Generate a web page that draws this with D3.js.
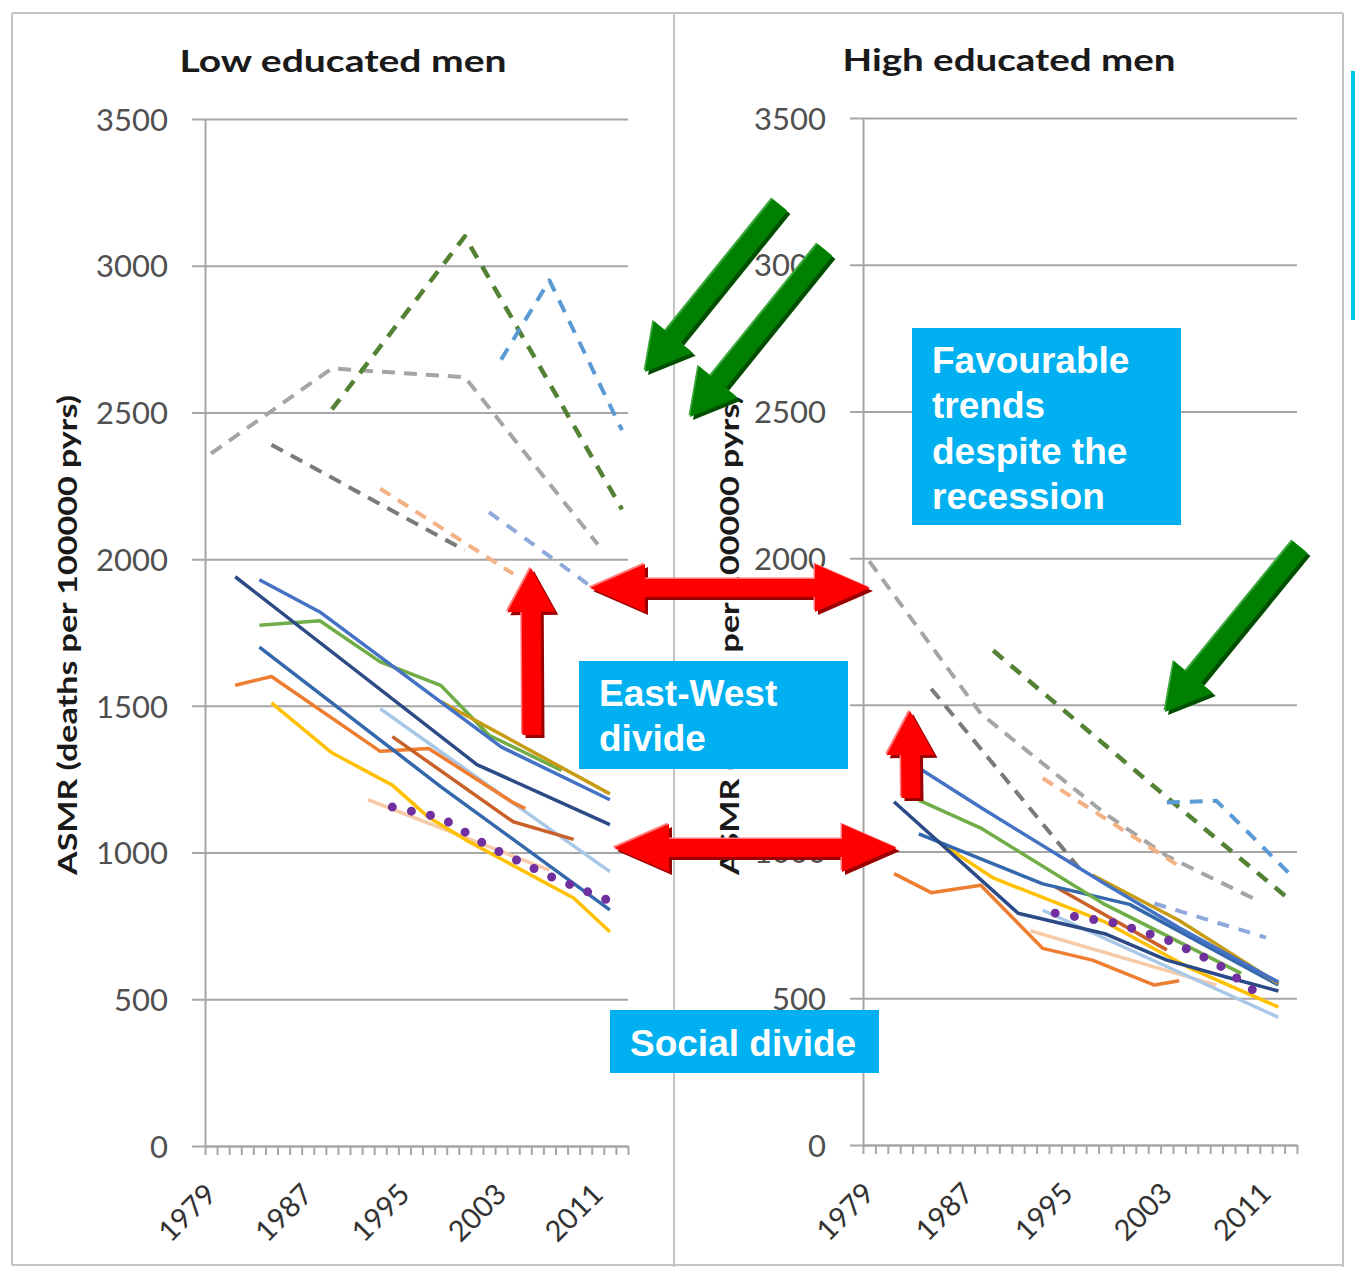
<!DOCTYPE html>
<html>
  <head>
    <meta charset="utf-8">
    <style>
      body { margin: 0; background: #fff; }
      svg { display: block; }
      .axis text { font-family: Lato, "Open Sans", sans-serif; font-size: 31px; fill: #505050; }
      .axis line, .axis path { stroke: #a6a6a6; stroke-width: 2; }
      .year-label { font-family: Lato, "Open Sans", sans-serif; font-size: 29px; fill: #333; }
      .panel-title { font-family: Lato, "Open Sans", sans-serif; font-size: 31px; font-weight: bold; fill: #1a1a1a; }
      .axis-title { font-family: Lato, "Open Sans", sans-serif; font-size: 27px; font-weight: bold; fill: #1a1a1a; }
      .note { font-family: "Liberation Sans", Arial, sans-serif; font-size: 37px; font-weight: bold; fill: #fff; }
    </style>
  </head>
  <body>
    <script src="https://cdnjs.cloudflare.com/ajax/libs/d3/7.8.5/d3.min.js"></script>
    <script>
    // categories + ticks
    var years = d3.range(1979, 2014);
    var yTicks = [0, 500, 1000, 1500, 2000, 2500, 3000, 3500];
    var yearLabels = [1979, 1987, 1995, 2003, 2011];
    var panelTitles = ["Low educated men", "High educated men"];
    var axisTitle = "ASMR (deaths per 100000 pyrs)";

    // low educated men  [year, ASMR]
    var lowNavy = [[1981, 1940], [2001, 1300], [2012, 1095]];
    var lowBlue = [[1983, 1930], [1988, 1820], [2003, 1360], [2012, 1180]];
    var lowGreen = [[1983, 1775], [1988, 1790], [1993, 1650], [1998, 1570], [2002, 1400], [2008, 1280]];
    var lowSteel = [[1983, 1700], [1998, 1225], [2012, 805]];
    var lowOrange = [[1981, 1570], [1984, 1600], [1993, 1345], [1997, 1355], [2004, 1170], [2005, 1150]];
    var lowRust = [[1994, 1395], [2004, 1105], [2009, 1045]];
    var lowGold = [[1998, 1515], [2012, 1200]];
    var lowYellow = [[1984, 1510], [1989, 1340], [1994, 1230], [1997, 1120], [2000, 1045], [2009, 845], [2012, 730]];
    var lowSky = [[1993, 1490], [2012, 935]];
    var lowPeach = [[1992, 1180], [2007, 940]];
    var lowPurple = [[1994, 1155], [1998, 1120], [2002, 1020], [2007, 920], [2012, 835]];
    var lowGreyLight = [[1979, 2360], [1989, 2650], [2000, 2620], [2011, 2050]];
    var lowGreyDark = [[1984, 2390], [2000, 2030]];
    var lowGreenDash = [[1989, 2510], [2000, 3100], [2013, 2170]];
    var lowBlueDash = [[2003, 2680], [2007, 2950], [2013, 2440]];
    var lowSalmonDash = [[1993, 2240], [2004, 1950]];
    var lowLilacDash = [[2002, 2160], [2011, 1890]];

    // high educated men
    var highNavy = [[1981, 1170], [1991, 790], [1998, 720], [2003, 630], [2008, 570], [2012, 525]];
    var highBlue = [[1983, 1285], [1988, 1150], [1998, 890], [2004, 740], [2012, 555]];
    var highGreen = [[1983, 1175], [1988, 1080], [1998, 820], [2009, 585]];
    var highSteel = [[1983, 1060], [1993, 890], [2000, 820], [2012, 545]];
    var highOrange = [[1981, 925], [1984, 860], [1988, 885], [1993, 670], [1997, 630], [2002, 545], [2004, 560]];
    var highRust = [[1994, 880], [2003, 665]];
    var highGold = [[1997, 920], [2004, 765], [2012, 550]];
    var highYellow = [[1984, 1050], [1989, 910], [1998, 760], [2005, 600], [2012, 470]];
    var highSky = [[1993, 800], [2012, 435]];
    var highPeach = [[1992, 730], [2007, 545]];
    var highPurple = [[1994, 790], [1999, 755], [2003, 700], [2007, 620], [2011, 495]];
    var highGreyLight = [[1979, 1990], [1988, 1470], [1998, 1130], [2003, 985], [2010, 840]];
    var highGreyDark = [[1984, 1555], [1996, 940]];
    var highGreenDash = [[1989, 1685], [2003, 1185], [2013, 833]];
    var highBlueDash = [[2003, 1167], [2007, 1173], [2013, 920]];
    var highSalmonDash = [[1993, 1250], [2004, 950]];
    var highLilacDash = [[2002, 823], [2011, 707]];

    var noteFavourable = ["Favourable", "trends", "despite the", "recession"];
    var noteEastWest = ["East-West", "divide"];
    var noteSocial = ["Social divide"];

    // drawing order: dashed first, dotted last
    var styles = [
      {low: lowGreyLight, high: highGreyLight, color: "#a5a5a5", dash: "13,9", w: 4},
      {low: lowGreyDark, high: highGreyDark, color: "#7a7a7a", dash: "13,9", w: 4},
      {low: lowGreenDash, high: highGreenDash, color: "#548235", dash: "13,10", w: 4.5},
      {low: lowBlueDash, high: highBlueDash, color: "#5b9bd5", dash: "13,10", w: 4},
      {low: lowSalmonDash, high: highSalmonDash, color: "#f4b183", dash: "12,9", w: 4},
      {low: lowLilacDash, high: highLilacDash, color: "#8fa9dc", dash: "12,10", w: 4},
      {low: lowPeach, high: highPeach, color: "#f8cba8", dash: null, w: 3.5},
      {low: lowSky, high: highSky, color: "#a9c8e8", dash: null, w: 3.5},
      {low: lowYellow, high: highYellow, color: "#ffc000", dash: null, w: 3.5},
      {low: lowOrange, high: highOrange, color: "#ed7d31", dash: null, w: 3.5},
      {low: lowRust, high: highRust, color: "#c8622a", dash: null, w: 3.5},
      {low: lowSteel, high: highSteel, color: "#3468ad", dash: null, w: 3.5},
      {low: lowGreen, high: highGreen, color: "#70ad47", dash: null, w: 3.5},
      {low: lowGold, high: highGold, color: "#c89b14", dash: null, w: 3.5},
      {low: lowBlue, high: highBlue, color: "#4472c4", dash: null, w: 3.5},
      {low: lowNavy, high: highNavy, color: "#2b4a86", dash: null, w: 3.5},
      {low: lowPurple, high: highPurple, color: "#7030a0", dash: "0,19.5", w: 9, cap: "round"}
    ];

    var panels = [
      {key: "low", title: panelTitles[0], left: 205, right: 628, top: 119, bottom: 1146, titleX: 343, titleY: 72, titleW: 327, axisTitleX: 77},
      {key: "high", title: panelTitles[1], left: 863, right: 1297, top: 118, bottom: 1145, titleX: 1009, titleY: 71, titleW: 333, axisTitleX: 739}
    ];

    var svg = d3.select("body").append("svg")
        .attr("width", 1355)
        .attr("height", 1267);

    // outer frame of the two charts
    var frame = [[12, 13, 1343, 13], [12, 13, 12, 1265], [674, 13, 674, 1267], [1343, 13, 1343, 1267], [12, 1265, 1343, 1265]];
    svg.selectAll(".frame").data(frame).enter().append("line")
        .attr("x1", function(d) { return d[0]; })
        .attr("y1", function(d) { return d[1]; })
        .attr("x2", function(d) { return d[2]; })
        .attr("y2", function(d) { return d[3]; })
        .attr("stroke", "#c4c4c4")
        .attr("stroke-width", 2);

    svg.append("rect")
        .attr("x", 1351).attr("y", 71)
        .attr("width", 4).attr("height", 249)
        .attr("fill", "#00c4f0");

    panels.forEach(function(p) {
      var g = svg.append("g");
      var x = d3.scaleBand().domain(years).range([p.left, p.right]);
      var xEdge = d3.scaleLinear().domain([0, years.length]).range([p.left, p.right]);
      var y = d3.scaleLinear().domain([0, 3500]).range([p.bottom, p.top]);

      var yAxis = g.append("g")
          .attr("class", "axis")
          .attr("transform", "translate(" + p.left + ",0)")
          .call(d3.axisLeft(y).tickValues(yTicks).tickFormat(d3.format("d"))
            .tickSize(-(p.right - p.left)).tickSizeOuter(0).tickPadding(37));
      yAxis.selectAll(".tick line").attr("x1", -13);
      yAxis.selectAll(".tick text").attr("dy", "0.36em");

      g.append("g")
          .attr("class", "axis")
          .attr("transform", "translate(0," + p.bottom + ")")
          .call(d3.axisBottom(xEdge).tickValues(d3.range(0, years.length + 1)).tickSize(9).tickSizeOuter(0).tickFormat(""));

      g.selectAll(".year-label").data(yearLabels).enter().append("text")
          .attr("class", "year-label")
          .attr("text-anchor", "end")
          .attr("transform", function(d) {
            return "translate(" + (x(d) + x.bandwidth() / 2 + 7) + "," + (p.bottom + 50) + ") rotate(-45)";
          })
          .text(function(d) { return d; });

      g.append("text")
          .attr("class", "panel-title")
          .attr("x", p.titleX).attr("y", p.titleY)
          .attr("text-anchor", "middle")
          .attr("textLength", p.titleW)
          .attr("lengthAdjust", "spacingAndGlyphs")
          .text(p.title);

      g.append("text")
          .attr("class", "axis-title")
          .attr("transform", "translate(" + p.axisTitleX + ",635) rotate(-90)")
          .attr("text-anchor", "middle")
          .attr("textLength", 480)
          .attr("lengthAdjust", "spacingAndGlyphs")
          .text(axisTitle);

      var line = d3.line()
          .x(function(d) { return x(d[0]) + x.bandwidth() / 2; })
          .y(function(d) { return y(d[1]); });

      g.selectAll(".series").data(styles).enter().append("path")
          .attr("d", function(s) { return line(s[p.key]); })
          .attr("fill", "none")
          .attr("stroke", function(s) { return s.color; })
          .attr("stroke-width", function(s) { return s.w; })
          .attr("stroke-dasharray", function(s) { return s.dash; })
          .attr("stroke-linecap", function(s) { return s.cap || "butt"; })
          .attr("stroke-linejoin", "round");
    });

    // block arrows (tail -> tip), optionally double headed
    function blockArrow(x1, y1, x2, y2, o) {
      var L = Math.hypot(x2 - x1, y2 - y1);
      var ang = Math.atan2(y2 - y1, x2 - x1) * 180 / Math.PI;
      var s = o.shaft, hh = o.head, hl = o.len;
      var pts;
      if (o.both) {
        pts = [[0, 0], [hl, -hh], [hl, -s], [L - hl, -s], [L - hl, -hh], [L, 0], [L - hl, hh], [L - hl, s], [hl, s], [hl, hh]];
      } else {
        pts = [[0, -s], [L - hl, -s], [L - hl, -hh], [L, 0], [L - hl, hh], [L - hl, s], [0, s]];
      }
      var str = pts.map(function(q) { return q.join(","); }).join(" ");
      var layers = [[3, 3, o.dark], [-1.5, -1.5, o.light], [0, 0, o.fill]];
      layers.forEach(function(l) {
        svg.append("polygon")
            .attr("points", str)
            .attr("transform", "translate(" + (x1 + l[0]) + "," + (y1 + l[1]) + ") rotate(" + ang + ")")
            .attr("fill", l[2]);
      });
    }

    var green = {shaft: 9.5, head: 25, len: 45, fill: "#008000", dark: "#004f00", light: "#3ea83e"};
    blockArrow(780, 205, 645, 372, green);
    blockArrow(825, 250, 690, 417, green);
    blockArrow(1300, 547, 1165, 712, green);

    var redH = {shaft: 9, head: 24, len: 55, both: true, fill: "#ff0000", dark: "#9b0000", light: "#ff7a7a"};
    var redV = {shaft: 9.5, head: 24, len: 44, fill: "#ff0000", dark: "#9b0000", light: "#ff7a7a"};
    blockArrow(590, 588, 870, 588, redH);
    blockArrow(614, 848, 897, 848, redH);
    blockArrow(532, 735, 531, 568, redV);
    blockArrow(911, 798, 910, 711, redV);

    // text boxes
    var notes = [
      {x: 912, y: 328, w: 269, h: 197, tx: 932, ty: 373, lines: noteFavourable},
      {x: 579, y: 661, w: 269, h: 108, tx: 599, ty: 706, lines: noteEastWest},
      {x: 610, y: 1010, w: 269, h: 63, tx: 630, ty: 1056, lines: noteSocial}
    ];
    notes.forEach(function(n) {
      svg.append("rect")
          .attr("x", n.x).attr("y", n.y)
          .attr("width", n.w).attr("height", n.h)
          .attr("fill", "#00b0f0");
      svg.selectAll(null).data(n.lines).enter().append("text")
          .attr("class", "note")
          .attr("x", n.tx)
          .attr("y", function(d, i) { return n.ty + i * 45.3; })
          .text(function(d) { return d; });
    });
    </script>
  </body>
</html>
